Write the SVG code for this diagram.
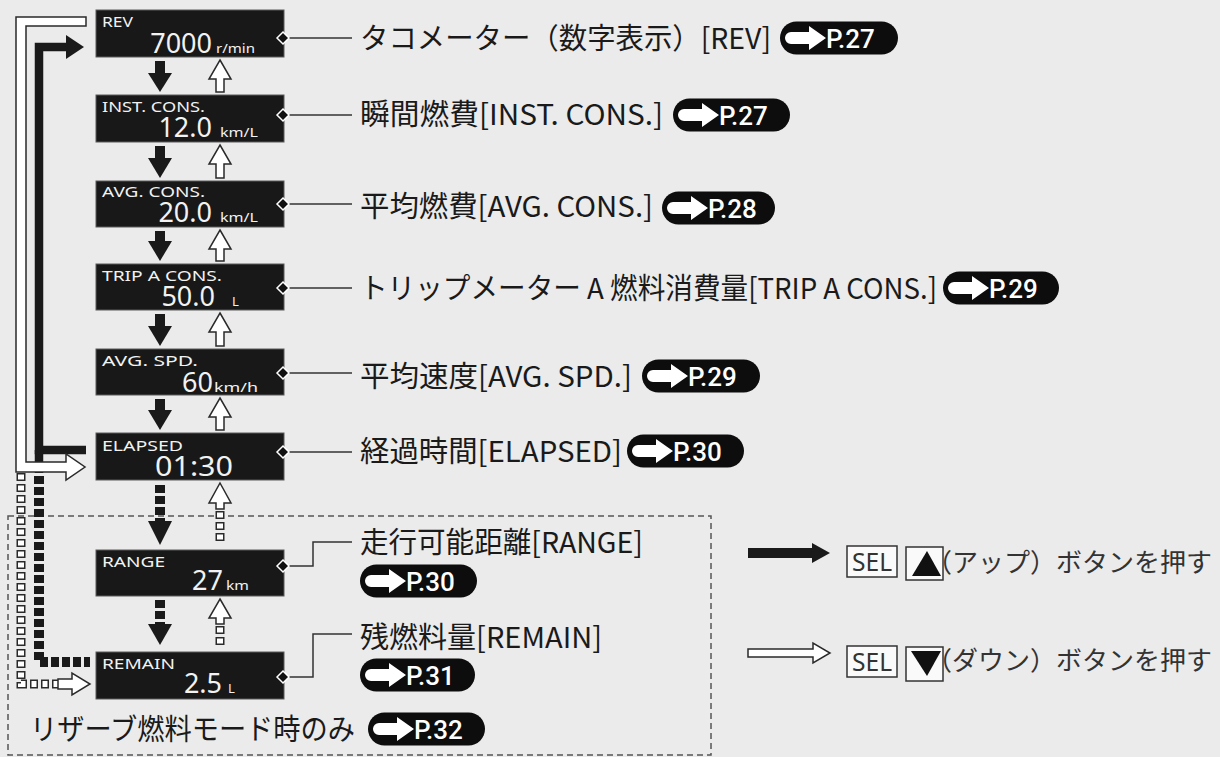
<svg xmlns="http://www.w3.org/2000/svg" width="1220" height="757" viewBox="0 0 1220 757">
<style>
.bg{fill:#ebebeb}
.box{fill:#181818;stroke:#5a5a5a;stroke-width:1}
.bl{font-family:"Noto Sans","Open Sans",sans-serif;fill:#f2f2f2;font-size:15px}
.bv{font-family:"Noto Sans","Open Sans",sans-serif;fill:#f2f2f2;font-size:27px;text-anchor:end}
.bu{font-family:"Noto Sans","Open Sans",sans-serif;fill:#f2f2f2;font-size:13px}
.lab{font-family:"Noto Sans CJK JP","Noto Sans",sans-serif;fill:#1a1a1a;font-size:29px}
.pill{fill:#0d0d0d}
.pt{font-family:Roboto,"Liberation Sans",sans-serif;font-weight:500;fill:#fff;font-size:26px}
.dia{fill:#111;stroke:#fff;stroke-width:1.5}
.con{fill:none;stroke:#333;stroke-width:1.5}
.dn{fill:#1a1a1a}
.up{fill:#fff;stroke:#2a2a2a;stroke-width:1.5;stroke-linejoin:miter}
.bdash{fill:none;stroke:#1a1a1a;stroke-width:10;stroke-dasharray:8 3}
.ho{fill:none;stroke:#2a2a2a;stroke-width:9;stroke-dasharray:8 3}
.hi{fill:none;stroke:#fff;stroke-width:6;stroke-dasharray:5 6;stroke-dashoffset:-1.5}
.leg{font-family:"Noto Sans CJK JP","Noto Sans",sans-serif;fill:#333;font-size:26px}
.btn{fill:#fafafa;stroke:#333;stroke-width:1.5}
</style>
<defs>
<path id="parrow" d="M11,-6 H29 V-12 L46,0 L29,12 V6 H11 A6,6 0 0 1 11,-6 Z" fill="#fff"/>
</defs>
<rect class="bg" x="0" y="0" width="1220" height="757"/>

<!-- reserve mode dashed region -->
<rect x="8" y="516" width="703" height="239" fill="none" stroke="#555" stroke-width="1.5" stroke-dasharray="6 4"/>

<g id="connectors">
  <!-- black loop (SEL up) -->
  <path d="M86,450 H39 V47 H67" fill="none" stroke="#1a1a1a" stroke-width="8.5" stroke-linejoin="miter"/>
  <path d="M39,450 V473" fill="none" stroke="#1a1a1a" stroke-width="8.5"/>
  <polygon points="66,35 84,47 66,59" fill="#1a1a1a"/>
  <path class="bdash" d="M39,476 V662 H90" stroke-width="8.5"/>
  <!-- hollow loop (SEL down) -->
  <path class="ho" d="M21,473 V684 H58"/>
  <path class="hi" d="M21,473 V684 H58" stroke-width="5.5"/>
  <polygon class="up" points="86,17 16,17 16,472 66,472 66,480 85,467 66,454 66,462 26,462 26,26 86,26"/>
  <polygon class="up" points="58,679 72,679 72,673 90,684 72,695 72,689 58,689"/>

  <!-- down arrows -->
  <rect class="dn" x="155" y="61" width="10" height="13"/><polygon class="dn" points="148,73 172,73 160,92"/>
  <rect class="dn" x="155" y="146" width="10" height="13"/><polygon class="dn" points="148,158 172,158 160,178"/>
  <rect class="dn" x="155" y="231" width="10" height="11"/><polygon class="dn" points="148,241 172,241 160,261"/>
  <rect class="dn" x="155" y="314" width="10" height="13"/><polygon class="dn" points="148,326 172,326 160,346"/>
  <rect class="dn" x="155" y="399" width="10" height="12"/><polygon class="dn" points="148,410 172,410 160,430"/>
  <path class="bdash" d="M160,485 V521"/><polygon class="dn" points="148,521 172,521 160,545"/>
  <path class="bdash" d="M160,600 V624"/><polygon class="dn" points="148,624 172,624 160,645"/>

  <!-- up arrows -->
  <path class="up" d="M220,60 L231,79 H224 V92 H216 V79 H209 Z"/>
  <path class="up" d="M220,145 L231,164 H224 V178 H216 V164 H209 Z"/>
  <path class="up" d="M220,230 L231,249 H224 V261 H216 V249 H209 Z"/>
  <path class="up" d="M220,313 L231,332 H224 V346 H216 V332 H209 Z"/>
  <path class="up" d="M220,398 L231,417 H224 V430 H216 V417 H209 Z"/>
  <path class="ho" d="M220,511 V542" stroke-width="8.5"/><path class="hi" d="M220,511 V542" stroke-width="5.5"/>
  <path class="up" d="M220,483 L231,503 H224 V509 H216 V503 H209 Z"/>
  <path class="ho" d="M220,626 V645" stroke-width="8.5"/><path class="hi" d="M220,626 V645" stroke-width="5.5"/>
  <path class="up" d="M220,599 L231,618 H224 V624 H216 V618 H209 Z"/>

  <!-- label leaders -->
  <path class="con" d="M289,38 H352"/>
  <path class="con" d="M289,115 H352"/>
  <path class="con" d="M289,204 H352"/>
  <path class="con" d="M289,288 H352"/>
  <path class="con" d="M289,373 H352"/>
  <path class="con" d="M289,452 H352"/>
  <path class="con" d="M289,566 H313 V542 H352"/>
  <path class="con" d="M289,677 H313 V634 H352"/>
</g>

<g id="node-rev">
  <rect class="box" x="96" y="10" width="188" height="47"/>
  <text class="bl" x="102" y="27" textLength="31" lengthAdjust="spacingAndGlyphs">REV</text>
  <text class="bv" x="212" y="53" font-size="28">7000</text>
  <text class="bu" x="216" y="53" font-size="12" textLength="39" lengthAdjust="spacingAndGlyphs">r/min</text>
  <polygon class="dia" points="277,38 283,32 289,38 283,44"/>
</g>
<g id="node-inst">
  <rect class="box" x="96" y="95" width="188" height="47"/>
  <text class="bl" x="102" y="112" textLength="103" lengthAdjust="spacingAndGlyphs">INST. CONS.</text>
  <text class="bv" x="212" y="137">12.0</text>
  <text class="bu" x="220" y="137" textLength="38" lengthAdjust="spacingAndGlyphs">km/L</text>
  <polygon class="dia" points="277,115 283,109 289,115 283,121"/>
</g>
<g id="node-avg">
  <rect class="box" x="96" y="181" width="188" height="46"/>
  <text class="bl" x="102" y="197" textLength="103" lengthAdjust="spacingAndGlyphs">AVG. CONS.</text>
  <text class="bv" x="212" y="222">20.0</text>
  <text class="bu" x="220" y="222" textLength="38" lengthAdjust="spacingAndGlyphs">km/L</text>
  <polygon class="dia" points="277,204 283,198 289,204 283,210"/>
</g>
<g id="node-trip">
  <rect class="box" x="96" y="264" width="188" height="46"/>
  <text class="bl" x="102" y="281" textLength="120" lengthAdjust="spacingAndGlyphs">TRIP A CONS.</text>
  <text class="bv" x="215" y="306">50.0</text>
  <text class="bu" x="232" y="306">L</text>
  <polygon class="dia" points="277,288 283,282 289,288 283,294"/>
</g>
<g id="node-spd">
  <rect class="box" x="96" y="349" width="188" height="46"/>
  <text class="bl" x="102" y="366" textLength="96" lengthAdjust="spacingAndGlyphs">AVG. SPD.</text>
  <text class="bv" x="213" y="392" font-size="28">60</text>
  <text class="bu" x="214" y="392" font-size="14" textLength="44" lengthAdjust="spacingAndGlyphs">km/h</text>
  <polygon class="dia" points="277,373 283,367 289,373 283,379"/>
</g>
<g id="node-elapsed">
  <rect class="box" x="96" y="433" width="188" height="47"/>
  <text class="bl" x="102" y="451" textLength="81" lengthAdjust="spacingAndGlyphs">ELAPSED</text>
  <text class="bv" x="233" y="476" font-size="28" textLength="78" lengthAdjust="spacingAndGlyphs">01:30</text>
  <polygon class="dia" points="277,452 283,446 289,452 283,458"/>
</g>
<g id="node-range">
  <rect class="box" x="96" y="550" width="188" height="46"/>
  <text class="bl" x="102" y="567" textLength="63" lengthAdjust="spacingAndGlyphs">RANGE</text>
  <text class="bv" x="223" y="590">27</text>
  <text class="bu" x="226" y="590" textLength="23" lengthAdjust="spacingAndGlyphs">km</text>
  <polygon class="dia" points="277,566 283,560 289,566 283,572"/>
</g>
<g id="node-remain">
  <rect class="box" x="96" y="652" width="188" height="47"/>
  <text class="bl" x="102" y="669" textLength="73" lengthAdjust="spacingAndGlyphs">REMAIN</text>
  <text class="bv" x="222" y="693">2.5</text>
  <text class="bu" x="228" y="693">L</text>
  <polygon class="dia" points="277,677 283,671 289,677 283,683"/>
</g>

<g id="label-rev">
  <text class="lab" x="360" y="49" textLength="411" lengthAdjust="spacingAndGlyphs">タコメーター（数字表示）[REV]</text>
  <g transform="translate(780,38)"><rect class="pill" x="0" y="-16.5" width="118" height="33" rx="16.5"/><use href="#parrow"/><text class="pt" x="46" y="9.5">P.27</text></g>
</g>
<g id="label-inst">
  <text class="lab" x="360" y="125" textLength="303" lengthAdjust="spacingAndGlyphs">瞬間燃費[INST. CONS.]</text>
  <g transform="translate(673,115)"><rect class="pill" x="0" y="-16.5" width="117" height="33" rx="16.5"/><use href="#parrow"/><text class="pt" x="46" y="9.5">P.27</text></g>
</g>
<g id="label-avg">
  <text class="lab" x="360" y="217" textLength="293" lengthAdjust="spacingAndGlyphs">平均燃費[AVG. CONS.]</text>
  <g transform="translate(662,208)"><rect class="pill" x="0" y="-16.5" width="113" height="33" rx="16.5"/><use href="#parrow"/><text class="pt" x="46" y="9.5">P.28</text></g>
</g>
<g id="label-trip">
  <text class="lab" x="360" y="299" textLength="577" lengthAdjust="spacingAndGlyphs">トリップメーター A 燃料消費量[TRIP A CONS.]</text>
  <g transform="translate(943,288)"><rect class="pill" x="0" y="-16.5" width="116" height="33" rx="16.5"/><use href="#parrow"/><text class="pt" x="46" y="9.5">P.29</text></g>
</g>
<g id="label-spd">
  <text class="lab" x="360" y="387" textLength="272" lengthAdjust="spacingAndGlyphs">平均速度[AVG. SPD.]</text>
  <g transform="translate(642,376)"><rect class="pill" x="0" y="-16.5" width="118" height="33" rx="16.5"/><use href="#parrow"/><text class="pt" x="46" y="9.5">P.29</text></g>
</g>
<g id="label-elapsed">
  <text class="lab" x="360" y="462" textLength="262" lengthAdjust="spacingAndGlyphs">経過時間[ELAPSED]</text>
  <g transform="translate(627,451)"><rect class="pill" x="0" y="-16.5" width="117" height="33" rx="16.5"/><use href="#parrow"/><text class="pt" x="46" y="9.5">P.30</text></g>
</g>
<g id="label-range">
  <text class="lab" x="360" y="553" textLength="283" lengthAdjust="spacingAndGlyphs">走行可能距離[RANGE]</text>
  <g transform="translate(360,581)"><rect class="pill" x="0" y="-16.5" width="117" height="33" rx="16.5"/><use href="#parrow"/><text class="pt" x="46" y="9.5">P.30</text></g>
</g>
<g id="label-remain">
  <text class="lab" x="360" y="648" textLength="242" lengthAdjust="spacingAndGlyphs">残燃料量[REMAIN]</text>
  <g transform="translate(360,675)"><rect class="pill" x="0" y="-16.5" width="115" height="33" rx="16.5"/><use href="#parrow"/><text class="pt" x="46" y="9.5">P.31</text></g>
</g>
<g id="note-reserve">
  <text class="lab" x="30" y="740" font-size="27" textLength="325" lengthAdjust="spacingAndGlyphs">リザーブ燃料モード時のみ</text>
  <g transform="translate(368,729)"><rect class="pill" x="0" y="-16.5" width="117" height="33" rx="16.5"/><use href="#parrow"/><text class="pt" x="46" y="9.5">P.32</text></g>
</g>

<g id="legend-up">
  <rect x="748" y="548" width="66" height="10" fill="#1a1a1a"/>
  <polygon points="812,543 830,553 812,563" fill="#1a1a1a"/>
  <rect class="btn" x="847" y="546" width="50" height="31"/>
  <text x="852" y="571" font-family="'Noto Sans',sans-serif" font-size="25" fill="#333" textLength="40" lengthAdjust="spacingAndGlyphs">SEL</text>
  <rect class="btn" x="906" y="547" width="37" height="33"/>
  <polygon points="912,576 927,551 941,576" fill="#111"/>
  <text class="leg" x="926" y="572">（アップ）ボタンを押す</text>
</g>
<g id="legend-down">
  <polygon class="up" points="748,649 813,649 813,643 830,653 813,663 813,657 748,657"/>
  <rect class="btn" x="847" y="646" width="50" height="31"/>
  <text x="852" y="671" font-family="'Noto Sans',sans-serif" font-size="25" fill="#333" textLength="40" lengthAdjust="spacingAndGlyphs">SEL</text>
  <rect class="btn" x="906" y="647" width="37" height="34"/>
  <polygon points="911,651 941,651 927,676" fill="#111"/>
  <text class="leg" x="926" y="670">（ダウン）ボタンを押す</text>
</g>
</svg>
